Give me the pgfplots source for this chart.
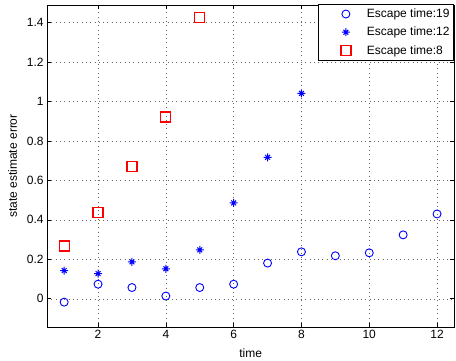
\documentclass[border=0pt]{standalone}
\usepackage{fontspec}
\setmainfont{Liberation Sans}
\usepackage{pgfplots}
\pgfplotsset{compat=1.18}
\definecolor{mblue}{rgb}{0,0,1}
\definecolor{mred}{rgb}{1,0,0}
\pgfdeclareplotmark{mstar}{%
  \pgfpathmoveto{\pgfqpoint{-\pgfplotmarksize}{0pt}}%
  \pgfpathlineto{\pgfqpoint{\pgfplotmarksize}{0pt}}%
  \pgfpathmoveto{\pgfqpoint{0pt}{-\pgfplotmarksize}}%
  \pgfpathlineto{\pgfqpoint{0pt}{\pgfplotmarksize}}%
  \pgfpathmoveto{\pgfqpoint{-0.6\pgfplotmarksize}{-0.6\pgfplotmarksize}}%
  \pgfpathlineto{\pgfqpoint{0.6\pgfplotmarksize}{0.6\pgfplotmarksize}}%
  \pgfpathmoveto{\pgfqpoint{-0.6\pgfplotmarksize}{0.6\pgfplotmarksize}}%
  \pgfpathlineto{\pgfqpoint{0.6\pgfplotmarksize}{-0.6\pgfplotmarksize}}%
  \pgfusepathqstroke}
\begin{document}
\begin{tikzpicture}
\useasboundingbox (0pt,0pt) rectangle (456pt,360pt);
\begin{axis}[
  at={(47.2pt,33pt)}, anchor=south west,
  scale only axis, width=406.8pt, height=322pt,
  xmin=0.5, xmax=12.5, ymin=-0.143, ymax=1.489,
  xtick={2,4,6,8,10,12},
  ytick={0,0.2,0.4,0.6,0.8,1,1.2,1.4},
  yticklabels={0,0.2,0.4,0.6,0.8,1,1.2,1.4},
  tick align=inside, major tick length=4pt,
  tick style={black, line width=0.6pt},
  axis line style={black, line width=0.9pt},
  grid=major,
  major grid style={black!60, line width=0.5pt, dash pattern=on 0.8pt off 3.5pt},
  /pgf/number format/assume math mode=true,
  tick label style={font=\fontsize{12}{14}\selectfont},
  label style={font=\fontsize{12}{14}\selectfont},
  xlabel={time},
  ylabel={state estimate error},
  xlabel style={at={(axis description cs:0.5,-0.081)}, anchor=center},
  ylabel style={at={(axis description cs:-0.085,0.5)}, anchor=center},
  legend cell align=left,
  legend style={at={(axis description cs:1,1.003)}, anchor=north east,
    draw=black, line width=0.8pt, font=\fontsize{12}{14}\selectfont,
    inner xsep=2pt, inner ysep=2.5pt, row sep=4pt, fill=white},
  legend image code/.code={\path (0pt,-4pt) rectangle (44pt,4pt); \draw[#1] plot coordinates {(25pt,0pt)};},
]
\addplot[color=mblue, draw=none, mark=o, mark size=4pt, mark options={draw=mblue, fill=none, line width=0.9pt, solid}] coordinates {
(1,-0.017) (2,0.074) (3,0.057) (4,0.014) (5,0.057) (6,0.074)
(7,0.181) (8,0.238) (9,0.218) (10,0.233) (11,0.324) (12,0.430)};
\addlegendentry{Escape time:19}
\addplot[color=mblue, draw=none, mark=mstar, mark size=4pt, mark options={draw=mblue, line width=1pt, solid}] coordinates {
(1,0.143) (2,0.128) (3,0.187) (4,0.152) (5,0.248) (6,0.486) (7,0.717) (8,1.041)};
\addlegendentry{Escape time:12}
\addplot[color=red, draw=none, mark=square, mark size=5pt, mark options={draw=red, fill=none, line width=1.25pt, solid}] coordinates {
(1,0.267) (2,0.439) (3,0.670) (4,0.921) (5,1.426)};
\addlegendentry{Escape time:8}
\end{axis}
\end{tikzpicture}
\end{document}
